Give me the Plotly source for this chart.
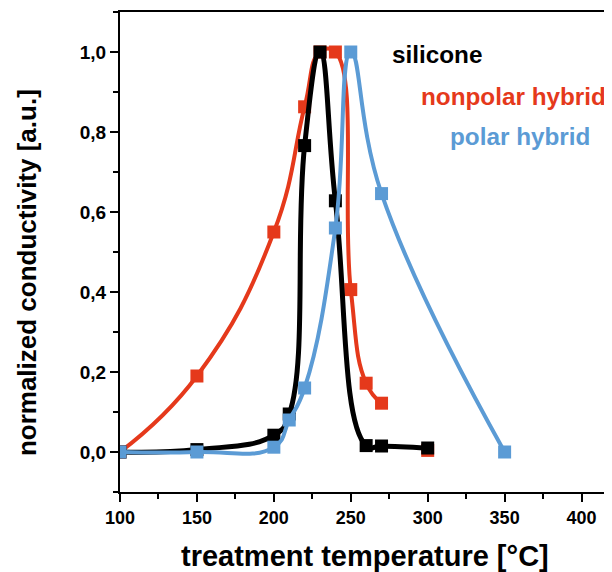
import plotly.graph_objects as go

# ---- data ----
silicone_T = [100, 150, 200, 210, 220, 230, 240, 260, 270, 300]
silicone_y = [0.0, 0.006, 0.042, 0.095, 0.766, 1.0, 0.628, 0.016, 0.015, 0.01]

nonpolar_T = [100, 150, 200, 220, 230, 240, 250, 260, 270]
nonpolar_y = [0.0, 0.19, 0.55, 0.863, 1.0, 1.0, 0.406, 0.172, 0.122]
nonpolar_extra_T = [300]
nonpolar_extra_y = [0.004]

polar_T = [100, 150, 200, 210, 220, 240, 250, 270, 350]
polar_y = [0.0, 0.0, 0.012, 0.08, 0.16, 0.56, 1.0, 0.646, 0.0]

x_tick_vals = [100, 150, 200, 250, 300, 350, 400]
x_tick_text = ["100", "150", "200", "250", "300", "350", "400"]
y_tick_vals = [0.0, 0.2, 0.4, 0.6, 0.8, 1.0]
y_tick_text = ["0,0", "0,2", "0,4", "0,6", "0,8", "1,0"]

RED = "#E5391B"
BLUE = "#5B9BD5"
BLACK = "#000000"
FONT = "Liberation Sans, Arial, sans-serif"
SMOOTH = 1.3

fig = go.Figure()
fig.add_trace(go.Scatter(x=nonpolar_T, y=nonpolar_y, mode="lines+markers",
                         line=dict(color=RED, width=4, shape="spline", smoothing=SMOOTH),
                         marker=dict(symbol="square", size=13, color=RED)))
fig.add_trace(go.Scatter(x=nonpolar_extra_T, y=nonpolar_extra_y, mode="markers",
                         marker=dict(symbol="square", size=13, color=RED)))
fig.add_trace(go.Scatter(x=silicone_T, y=silicone_y, mode="lines+markers",
                         line=dict(color=BLACK, width=5, shape="spline", smoothing=SMOOTH),
                         marker=dict(symbol="square", size=13, color=BLACK)))
fig.add_trace(go.Scatter(x=polar_T, y=polar_y, mode="lines+markers",
                         line=dict(color=BLUE, width=4, shape="spline", smoothing=SMOOTH),
                         marker=dict(symbol="square", size=13, color=BLUE)))

axis_common = dict(showline=True, linecolor="black", linewidth=2,
                   ticks="outside", ticklen=8, tickwidth=2, tickcolor="black",
                   showgrid=False, zeroline=False, automargin=False)

fig.update_xaxes(range=[100, 419.8], tickmode="array", tickvals=x_tick_vals,
                 ticktext=x_tick_text, mirror=True,
                 tickfont=dict(family=FONT, size=18, color="black", weight="bold"),
                 minor=dict(ticks="outside", ticklen=5, tickwidth=2, tickcolor="black",
                            tickmode="linear", tick0=100, dtick=25),
                 **axis_common)
fig.update_yaxes(range=[-0.1, 1.1], tickmode="array", tickvals=y_tick_vals,
                 ticktext=y_tick_text, mirror=False,
                 tickfont=dict(family=FONT, size=19, color="black", weight="bold"),
                 minor=dict(ticks="outside", ticklen=5, tickwidth=2, tickcolor="black",
                            tickmode="linear", tick0=0, dtick=0.1),
                 **axis_common)

# axis titles
fig.add_annotation(x=0.498, y=-0.133, xref="paper", yref="paper",
                   text="<b>treatment temperature [°C]</b>", showarrow=False,
                   xanchor="center", yanchor="middle",
                   font=dict(family=FONT, size=29, color="black"))
fig.add_annotation(x=0, y=0.456, xref="paper", yref="paper", xshift=-93,
                   text="<b>normalized conductivity [a.u.]</b>", showarrow=False,
                   textangle=-90, xanchor="center", yanchor="middle",
                   font=dict(family=FONT, size=26, color="black"))

labels = [("silicone", BLACK, 275.4, 0.995),
          ("nonpolar hybrid", RED, 294.3, 0.89),
          ("polar hybrid", BLUE, 313.1, 0.79)]
for txt, col, xx, yy in labels:
    fig.add_annotation(x=xx, y=yy, xref="x", yref="y", text="<b>" + txt + "</b>",
                       showarrow=False, xanchor="left", yanchor="middle",
                       font=dict(family=FONT, size=24.3, color=col))

# page body has an 8px default margin, so the figure is sized/margined to compensate
fig.update_layout(width=604, height=564, showlegend=False,
                  margin=dict(l=112, r=0, t=4, b=80),
                  plot_bgcolor="white", paper_bgcolor="white")

fig.write_html("out.html")
